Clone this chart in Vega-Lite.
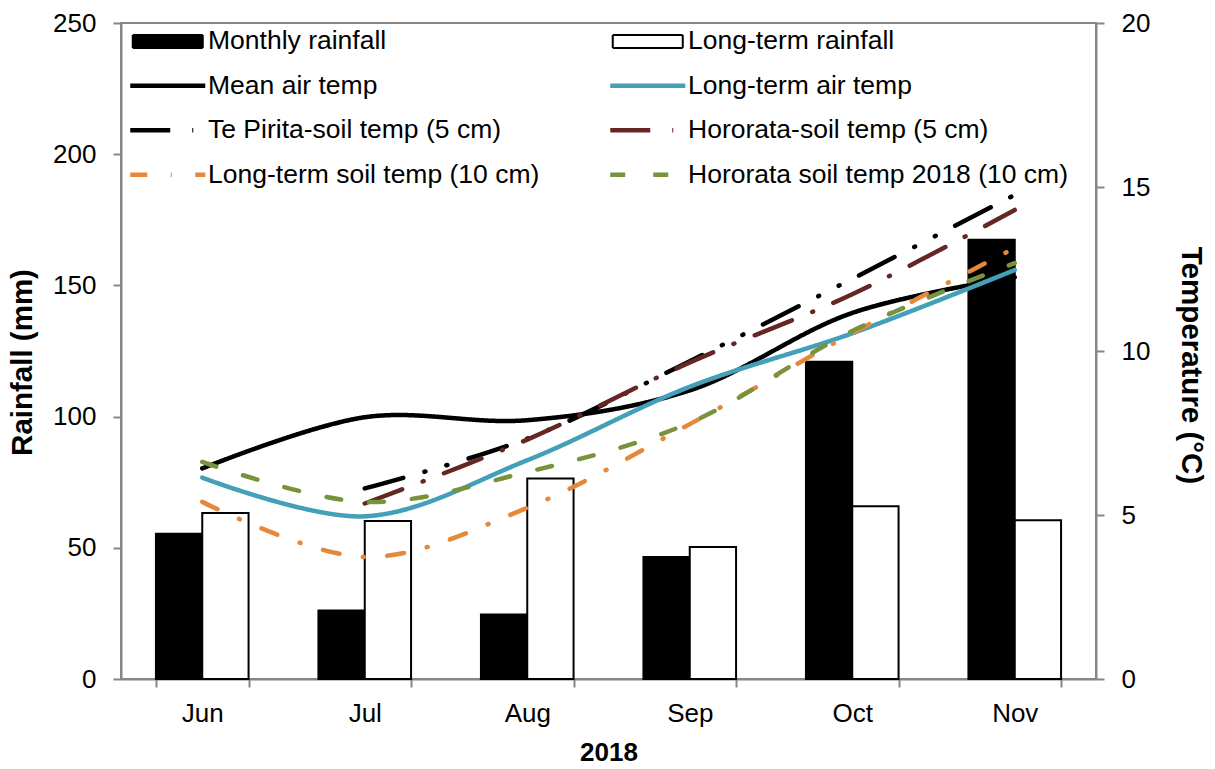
{
  "$schema": "https://vega.github.io/schema/vega-lite/v6.json",
  "width": 975,
  "height": 656,
  "autosize": {"type": "none"},
  "padding": {"left": 121, "top": 23, "right": 119, "bottom": 90},
  "background": "white",
  "config": {
    "font": "Liberation Sans",
    "view": {"stroke": "#868686", "strokeWidth": 2},
    "axis": {
      "grid": false,
      "domainColor": "#868686",
      "domainWidth": 2,
      "tickColor": "#868686",
      "tickWidth": 2,
      "tickSize": 8,
      "labelFont": "Liberation Sans",
      "labelFontSize": 26,
      "labelColor": "black",
      "titleFont": "Liberation Sans",
      "titleFontSize": 26,
      "titleFontWeight": "bold",
      "titleColor": "black"
    }
  },
  "datasets": {
    "rain": [
      {"month": "Jun", "series": "Monthly rainfall", "mm": 55.4},
      {"month": "Jun", "series": "Long-term rainfall", "mm": 63.3},
      {"month": "Jul", "series": "Monthly rainfall", "mm": 26.1},
      {"month": "Jul", "series": "Long-term rainfall", "mm": 60.2},
      {"month": "Aug", "series": "Monthly rainfall", "mm": 24.6},
      {"month": "Aug", "series": "Long-term rainfall", "mm": 76.4},
      {"month": "Sep", "series": "Monthly rainfall", "mm": 46.5},
      {"month": "Sep", "series": "Long-term rainfall", "mm": 50.3},
      {"month": "Oct", "series": "Monthly rainfall", "mm": 120.9},
      {"month": "Oct", "series": "Long-term rainfall", "mm": 65.8},
      {"month": "Nov", "series": "Monthly rainfall", "mm": 167.4},
      {"month": "Nov", "series": "Long-term rainfall", "mm": 60.5}
    ],
    "temp": [
      {"month": "Jun", "series": "Mean air temp", "temp": 6.42},
      {"month": "Jul", "series": "Mean air temp", "temp": 7.98},
      {"month": "Aug", "series": "Mean air temp", "temp": 7.89},
      {"month": "Sep", "series": "Mean air temp", "temp": 8.8},
      {"month": "Oct", "series": "Mean air temp", "temp": 11.16},
      {"month": "Nov", "series": "Mean air temp", "temp": 12.25},
      {"month": "Jun", "series": "Long-term air temp", "temp": 6.14},
      {"month": "Jul", "series": "Long-term air temp", "temp": 4.96},
      {"month": "Aug", "series": "Long-term air temp", "temp": 6.67},
      {"month": "Sep", "series": "Long-term air temp", "temp": 8.91},
      {"month": "Oct", "series": "Long-term air temp", "temp": 10.54},
      {"month": "Nov", "series": "Long-term air temp", "temp": 12.47},
      {"month": "Jul", "series": "Te Pirita-soil temp (5 cm)", "temp": 5.81},
      {"month": "Aug", "series": "Te Pirita-soil temp (5 cm)", "temp": 7.33},
      {"month": "Sep", "series": "Te Pirita-soil temp (5 cm)", "temp": 9.69},
      {"month": "Oct", "series": "Te Pirita-soil temp (5 cm)", "temp": 12.2},
      {"month": "Nov", "series": "Te Pirita-soil temp (5 cm)", "temp": 14.76},
      {"month": "Jul", "series": "Hororata-soil temp (5 cm)", "temp": 5.35},
      {"month": "Aug", "series": "Hororata-soil temp (5 cm)", "temp": 7.3},
      {"month": "Sep", "series": "Hororata-soil temp (5 cm)", "temp": 9.65},
      {"month": "Oct", "series": "Hororata-soil temp (5 cm)", "temp": 11.73},
      {"month": "Nov", "series": "Hororata-soil temp (5 cm)", "temp": 14.3},
      {"month": "Jun", "series": "Long-term soil temp (10 cm)", "temp": 5.4},
      {"month": "Jul", "series": "Long-term soil temp (10 cm)", "temp": 3.72},
      {"month": "Aug", "series": "Long-term soil temp (10 cm)", "temp": 5.22},
      {"month": "Sep", "series": "Long-term soil temp (10 cm)", "temp": 7.77},
      {"month": "Oct", "series": "Long-term soil temp (10 cm)", "temp": 10.54},
      {"month": "Nov", "series": "Long-term soil temp (10 cm)", "temp": 13.14},
      {"month": "Jun", "series": "Hororata soil temp 2018 (10 cm)", "temp": 6.62},
      {"month": "Jul", "series": "Hororata soil temp 2018 (10 cm)", "temp": 5.4},
      {"month": "Aug", "series": "Hororata soil temp 2018 (10 cm)", "temp": 6.31},
      {"month": "Sep", "series": "Hororata soil temp 2018 (10 cm)", "temp": 7.81},
      {"month": "Oct", "series": "Hororata soil temp 2018 (10 cm)", "temp": 10.61},
      {"month": "Nov", "series": "Hororata soil temp 2018 (10 cm)", "temp": 12.68}
    ]
  },
  "layer": [
    {
      "data": {"name": "rain"},
      "mark": {"type": "bar", "stroke": "black", "strokeWidth": 2},
      "encoding": {
        "x": {
          "field": "month",
          "type": "nominal",
          "sort": ["Jun", "Jul", "Aug", "Sep", "Oct", "Nov"],
          "scale": {"paddingInner": 0.43, "paddingOuter": 0.215},
          "axis": {
            "title": "2018",
            "labelAngle": 0,
            "tickBand": "extent",
            "labelPadding": 13,
            "titlePadding": 13
          }
        },
        "xOffset": {"field": "series", "type": "nominal", "sort": ["Monthly rainfall", "Long-term rainfall"]},
        "y": {
          "field": "mm",
          "type": "quantitative",
          "scale": {"domain": [0, 250]},
          "axis": {
            "title": "Rainfall (mm)",
            "titleFontSize": 29.5,
            "titleY": 339,
            "values": [0, 50, 100, 150, 200, 250],
            "labelPadding": 17,
            "titlePadding": 15
          }
        },
        "color": {
          "field": "series",
          "type": "nominal",
          "scale": {
            "domain": [
              "Monthly rainfall",
              "Long-term rainfall",
              "Mean air temp",
              "Long-term air temp",
              "Te Pirita-soil temp (5 cm)",
              "Hororata-soil temp (5 cm)",
              "Long-term soil temp (10 cm)",
              "Hororata soil temp 2018 (10 cm)"
            ],
            "range": ["black", "white", "black", "#449FB8", "black", "#652624", "#E5883A", "#77933C"]
          },
          "legend": null
        }
      }
    },
    {
      "data": {"name": "temp"},
      "mark": {"type": "line", "interpolate": "catmull-rom", "strokeWidth": 4.5, "strokeCap": "round"},
      "encoding": {
        "x": {"field": "month", "type": "nominal", "sort": ["Jun", "Jul", "Aug", "Sep", "Oct", "Nov"]},
        "y": {
          "field": "temp",
          "type": "quantitative",
          "scale": {"domain": [0, 20]},
          "axis": {
            "orient": "right",
            "title": "Temperature (°C)",
            "titleFontSize": 29.5,
            "titleY": 342,
            "values": [0, 5, 10, 15, 20],
            "labelPadding": 17,
            "titlePadding": 26
          }
        },
        "color": {"field": "series", "type": "nominal", "legend": null},
        "strokeDash": {
          "field": "series",
          "type": "nominal",
          "scale": {
            "domain": [
              "Monthly rainfall",
              "Mean air temp",
              "Te Pirita-soil temp (5 cm)",
              "Long-term soil temp (10 cm)",
              "Long-term rainfall",
              "Long-term air temp",
              "Hororata-soil temp (5 cm)",
              "Hororata soil temp 2018 (10 cm)"
            ],
            "range": [[1, 0], [1, 0], [40, 22, 1, 22, 1, 22], [17, 23.5, 1, 23.5], [1, 0], [1, 0], [40, 22, 1, 22], [15, 28]]
          },
          "legend": {
            "title": null,
            "orient": "none",
            "legendX": 9,
            "legendY": 5,
            "columns": 2,
            "columnPadding": 61,
            "rowPadding": 17.5,
            "padding": 0,
            "labelFontSize": 26.5,
            "labelColor": "black",
            "labelLimit": 600,
            "symbolSize": 100,
            "symbolOffset": 24.5,
            "labelOffset": 27,
            "symbolOpacity": 1,
            "symbolType": {"expr": "indexof(['Monthly rainfall','Long-term rainfall'], datum.value) >= 0 ? 'M-7,-1.3H7V1.3H-7Z' : 'M-7.5,0H7.5'"},
            "symbolFillColor": {"expr": "datum.value == 'Monthly rainfall' ? 'black' : datum.value == 'Long-term rainfall' ? 'white' : 'transparent'"},
            "symbolStrokeColor": {"expr": "datum.value == 'Long-term rainfall' || datum.value == 'Monthly rainfall' ? 'black' : scale('color', datum.value)"},
            "symbolStrokeWidth": {"expr": "indexof(['Monthly rainfall','Long-term rainfall'], datum.value) >= 0 ? 2 : 4.5"}
          }
        }
      }
    }
  ],
  "resolve": {"scale": {"y": "independent"}}
}
